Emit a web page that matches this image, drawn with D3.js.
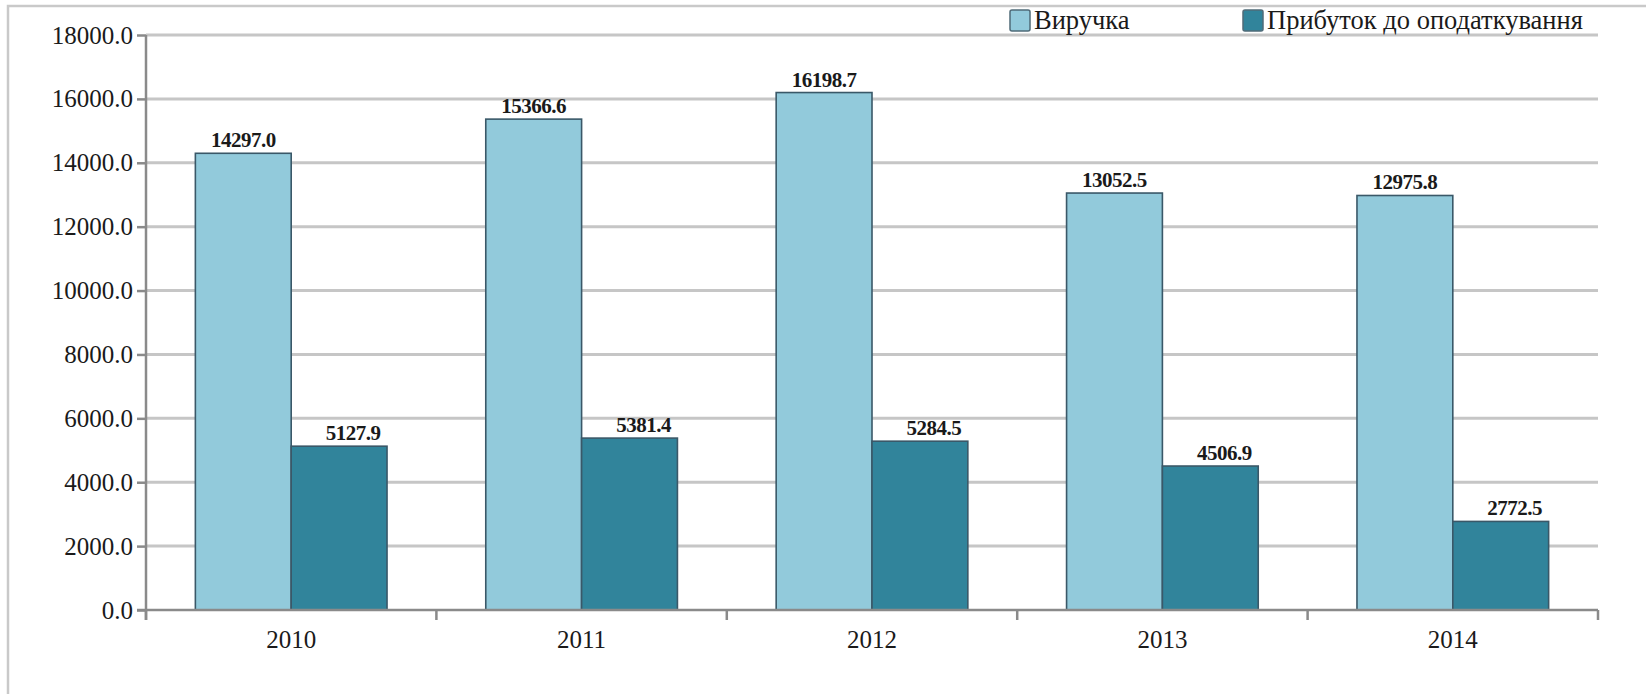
<!DOCTYPE html>
<html>
<head>
<meta charset="utf-8">
<script src="https://cdn.jsdelivr.net/npm/d3@7"></script>
<style>
  html, body { margin: 0; padding: 0; background: #fff; }
  svg { display: block; }
  svg text { font-family: "Liberation Serif", "Times New Roman", serif !important; fill: #1a1a1a; }
</style>
</head>
<body>
<svg id="chart" width="1646" height="694"></svg>
<script>
// Data: revenue and pre-tax profit by year
const years = ["2010", "2011", "2012", "2013", "2014"];
const revenue = [14297.0, 15366.6, 16198.7, 13052.5, 12975.8];
const profit = [5127.9, 5381.4, 5284.5, 4506.9, 2772.5];
const seriesNames = ["Виручка", "Прибуток до оподаткування"];
const yTicks = [0, 2000, 4000, 6000, 8000, 10000, 12000, 14000, 16000, 18000];

const colors = ["#92cadb", "#31849b"];
const svg = d3.select("#chart");
const W = 1646, H = 694;
const plot = { left: 146, right: 1598, top: 35, bottom: 610 };

// Outer frame
svg.append("rect")
  .attr("x", 8).attr("y", 6)
  .attr("width", W + 20).attr("height", H + 20)
  .attr("fill", "none").attr("stroke", "#c9c9c9").attr("stroke-width", 2.5);

const x = d3.scaleBand().domain(years).range([plot.left, plot.right]).padding(0);
const y = d3.scaleLinear().domain([0, 18000]).range([plot.bottom, plot.top]);

// Horizontal gridlines
svg.append("g").selectAll("line")
  .data(yTicks.filter(d => d > 0))
  .join("line")
  .attr("x1", plot.left).attr("x2", plot.right)
  .attr("y1", d => y(d)).attr("y2", d => y(d))
  .attr("stroke", "#c6c6c6").attr("stroke-width", 3);

// Y axis
const yAxis = svg.append("g")
  .attr("transform", `translate(${plot.left},0)`)
  .call(d3.axisLeft(y).tickValues(yTicks).tickFormat(d3.format(".1f")).tickSize(9).tickPadding(4));
yAxis.attr("font-family", null).attr("font-size", null);
yAxis.select(".domain").remove();
yAxis.selectAll(".tick line").attr("stroke", "#8a8a8a").attr("stroke-width", 2.5);
yAxis.selectAll(".tick text")
  .style("font-size", "25px").attr("fill", "#1a1a1a");
svg.append("line")
  .attr("x1", plot.left).attr("x2", plot.left)
  .attr("y1", plot.top).attr("y2", plot.bottom + 10)
  .attr("stroke", "#8a8a8a").attr("stroke-width", 2.5);

// Bars: one group per series, side by side within each year
const barW = x.bandwidth() * 0.33;
const seriesData = [revenue, profit];
seriesData.forEach((vals, si) => {
  svg.append("g").selectAll("rect")
    .data(vals)
    .join("rect")
    .attr("x", (d, i) => x(years[i]) + x.bandwidth() / 2 - barW + si * barW)
    .attr("y", d => y(d))
    .attr("width", barW)
    .attr("height", d => y(0) - y(d))
    .attr("fill", colors[si])
    .attr("stroke", "#3a5868").attr("stroke-width", 1.6);
});

// X axis
svg.append("line")
  .attr("x1", plot.left - 9).attr("x2", plot.right)
  .attr("y1", plot.bottom).attr("y2", plot.bottom)
  .attr("stroke", "#8a8a8a").attr("stroke-width", 2.5);
const edges = years.map(c => x(c)).concat([plot.right]);
svg.append("g").selectAll("line")
  .data(edges)
  .join("line")
  .attr("x1", d => d).attr("x2", d => d)
  .attr("y1", plot.bottom).attr("y2", plot.bottom + 10)
  .attr("stroke", "#8a8a8a").attr("stroke-width", 2.5);
svg.append("g").selectAll("text")
  .data(years)
  .join("text")
  .attr("x", d => x(d) + x.bandwidth() / 2)
  .attr("y", 648)
  .attr("text-anchor", "middle")
  .style("font-size", "25px")
  .text(d => d);

// Value labels above bars
const labelDx = [0, 14];
seriesData.forEach((vals, si) => {
  svg.append("g").selectAll("text")
    .data(vals)
    .join("text")
    .attr("x", (d, i) => x(years[i]) + x.bandwidth() / 2 - barW / 2 + si * barW + labelDx[si])
    .attr("y", d => y(d) - 6)
    .attr("text-anchor", "middle")
    .style("font-size", "21px")
    .style("font-weight", "bold")
    .style("letter-spacing", "-0.5px")
    .text(d => d.toFixed(1));
});

// Legend
const legendX = [1010, 1243];
seriesNames.forEach((name, i) => {
  const g = svg.append("g").attr("transform", `translate(${legendX[i]},0)`);
  g.append("rect")
    .attr("x", 0).attr("y", 10).attr("width", 20).attr("height", 21)
    .attr("rx", 2)
    .attr("fill", colors[i]).attr("stroke", "#4f6b78").attr("stroke-width", 1.5);
  g.append("text")
    .attr("x", 24).attr("y", 29)
    .style("font-size", "26.5px")
    .text(name);
});
</script>
</body>
</html>
